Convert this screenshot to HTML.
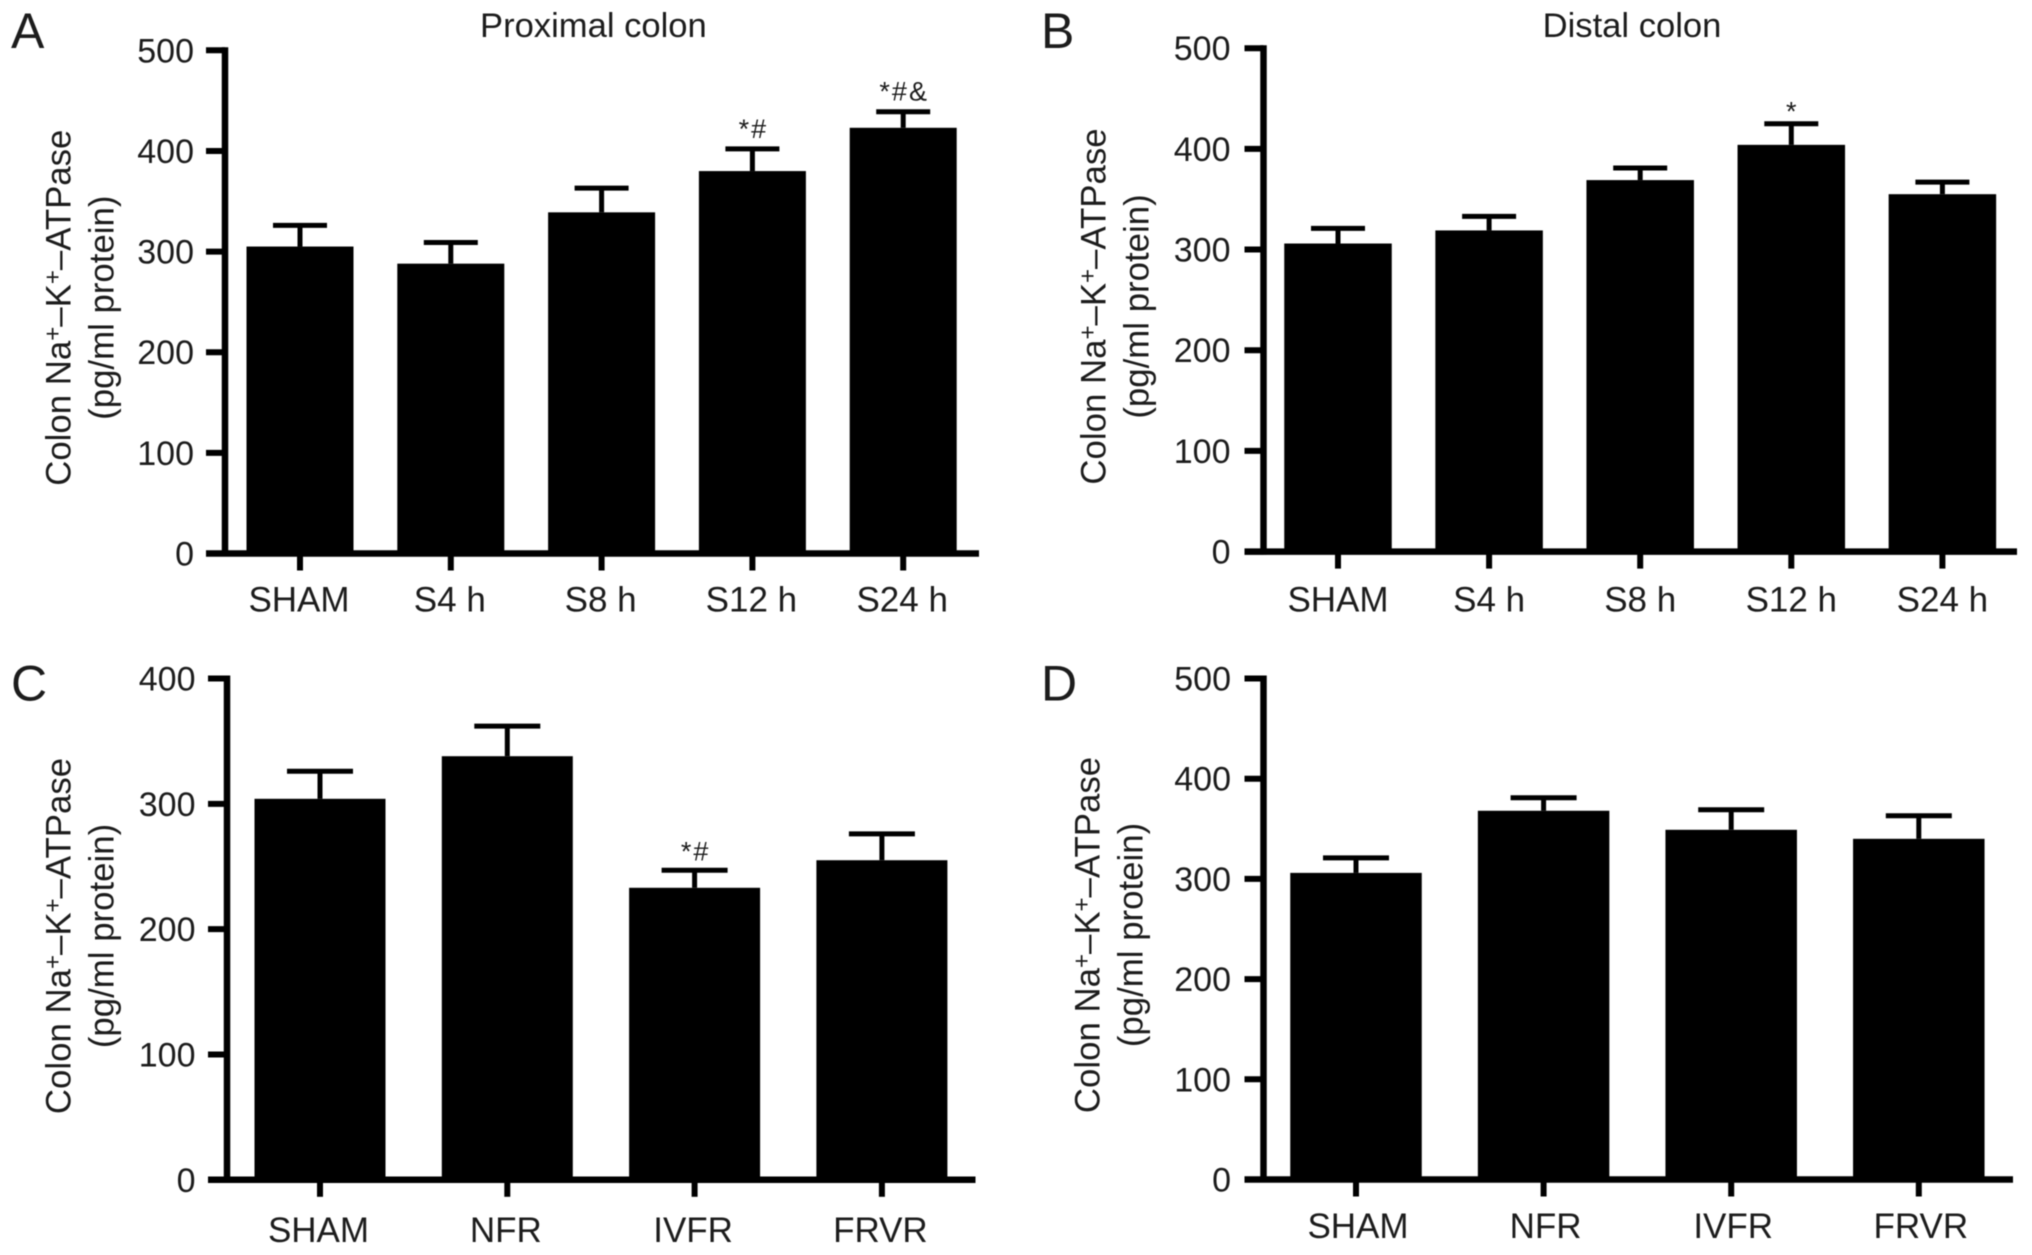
<!DOCTYPE html>
<html lang="en">
<head>
<meta charset="utf-8">
<title>Colon Na+-K+-ATPase bar charts</title>
<style>
html,body{margin:0;padding:0;background:#fff;width:2032px;height:1255px;overflow:hidden}
svg{display:block;filter:blur(0.6px)}
text{font-family:"Liberation Sans",Arial,sans-serif;fill:#1c1c1c}
</style>
</head>
<body>
<svg id="figure" xmlns="http://www.w3.org/2000/svg" width="2032" height="1255" viewBox="0 0 2032 1255"></svg>
<script>
const panelACategories = ['SHAM', 'S4 h', 'S8 h', 'S12 h', 'S24 h'];
const panelAValues = [305, 288, 339, 380, 423];
const panelAErrorTops = [326, 309, 363, 402, 439];
const panelASignificance = ['', '', '', '*#', '*#&'];
const panelATicks = [0, 100, 200, 300, 400, 500];

const panelBCategories = ['SHAM', 'S4 h', 'S8 h', 'S12 h', 'S24 h'];
const panelBValues = [306, 319, 369, 404, 355];
const panelBErrorTops = [321, 333, 381, 425, 367];
const panelBSignificance = ['', '', '', '*', ''];
const panelBTicks = [0, 100, 200, 300, 400, 500];

const panelCCategories = ['SHAM', 'NFR', 'IVFR', 'FRVR'];
const panelCValues = [304, 338, 233, 255];
const panelCErrorTops = [326, 362, 247, 276];
const panelCSignificance = ['', '', '*#', ''];
const panelCTicks = [0, 100, 200, 300, 400];

const panelDCategories = ['SHAM', 'NFR', 'IVFR', 'FRVR'];
const panelDValues = [306, 368, 349, 340];
const panelDErrorTops = [321, 381, 369, 363];
const panelDSignificance = ['', '', '', ''];
const panelDTicks = [0, 100, 200, 300, 400, 500];

const NS = 'http://www.w3.org/2000/svg';
const figure = document.getElementById('figure');

function make(tag, attrs, parent) {
  const el = document.createElementNS(NS, tag);
  for (const k in attrs) el.setAttribute(k, attrs[k]);
  parent.appendChild(el);
  return el;
}

function drawPanel(cfg) {
  const g = make('g', {}, figure);
  
  

  const maxTick = cfg.ticks[cfg.ticks.length - 1];
  const yOf = v => cfg.zeroY - (v / maxTick) * (cfg.zeroY - cfg.topY);
  const xOf = i => cfg.firstX + i * cfg.step;

  const letter = make('text', {x: cfg.letterX, y: cfg.letterY, 'font-size': 50}, g);
  letter.textContent = cfg.id;
  
  

  if (cfg.title) {
    const title = make('text', {x: cfg.titleX, y: 37, 'font-size': 34.6, 'text-anchor': 'middle'}, g);
    title.textContent = cfg.title;
    
    
  }

  cfg.values.forEach((v, i) => {
    const bar = make('rect', {x: xOf(i) - cfg.barW / 2, y: yOf(v), width: cfg.barW, height: cfg.zeroY - yOf(v), fill: '#000'}, g);
    
    

    const stem = make('line', {x1: xOf(i), x2: xOf(i), y1: yOf(v), y2: yOf(cfg.errorTops[i]), stroke: '#000', 'stroke-width': 5}, g);
    
    

    const cap = make('line', {x1: xOf(i) - cfg.capW / 2, x2: xOf(i) + cfg.capW / 2, y1: yOf(cfg.errorTops[i]), y2: yOf(cfg.errorTops[i]), stroke: '#000', 'stroke-width': 5}, g);
    
    

    if (cfg.significance[i]) {
      const sig = make('text', {x: xOf(i) + 1, y: yOf(cfg.errorTops[i]) - cfg.sigGap, 'font-size': 27, 'text-anchor': 'middle', 'letter-spacing': 2}, g);
      sig.textContent = cfg.significance[i];
      
      
    }

    const tick = make('line', {x1: xOf(i), x2: xOf(i), y1: cfg.zeroY, y2: cfg.zeroY + 17, stroke: '#000', 'stroke-width': 6}, g);
    
    

    const label = make('text', {x: xOf(i) + cfg.labelDx, y: cfg.labelY, 'font-size': 35, 'text-anchor': 'middle'}, g);
    label.textContent = cfg.categories[i];
    
    
  });

  const yAxis = make('line', {x1: cfg.axisX, x2: cfg.axisX, y1: cfg.topY - 3, y2: cfg.zeroY + 3, stroke: '#000', 'stroke-width': 6.5}, g);
  
  

  const xAxis = make('line', {x1: cfg.axisX - 19, x2: cfg.axisEnd, y1: cfg.zeroY, y2: cfg.zeroY, stroke: '#000', 'stroke-width': 6.5}, g);
  
  

  cfg.ticks.forEach(t => {
    const tick = make('line', {x1: cfg.axisX - 19, x2: cfg.axisX, y1: yOf(t), y2: yOf(t), stroke: '#000', 'stroke-width': 6}, g);
    
    

    const label = make('text', {x: cfg.axisX - cfg.labelGap, y: yOf(t) + 12, 'font-size': 34, 'text-anchor': 'end'}, g);
    label.textContent = t;
    
    
  });

  const t1 = make('text', {transform: 'translate(' + cfg.yTitleX + ',' + cfg.yTitleY + ') rotate(-90)', 'font-size': 34.8, 'text-anchor': 'middle'}, g);
  
  
  make('tspan', {}, t1).textContent = 'Colon Na';
  make('tspan', {dy: -10, 'font-size': 24}, t1).textContent = '+';
  make('tspan', {dy: 10}, t1).textContent = '\u2013K';
  make('tspan', {dy: -10, 'font-size': 24}, t1).textContent = '+';
  make('tspan', {dy: 10}, t1).textContent = '\u2013ATPase';

  const t2 = make('text', {transform: 'translate(' + (cfg.yTitleX + 43) + ',' + cfg.yTitleY + ') rotate(-90)', 'font-size': 34.8, 'text-anchor': 'middle'}, g);
  t2.textContent = '(pg/ml protein)';
  
  
}

drawPanel({id: 'A', title: 'Proximal colon', titleX: 593.4,
  categories: panelACategories, values: panelAValues, errorTops: panelAErrorTops,
  significance: panelASignificance, ticks: panelATicks,
  axisX: 225, axisEnd: 979, topY: 50.3, zeroY: 553.5, firstX: 300, step: 150.8, barW: 107, capW: 54,
  labelY: 611.5, labelDx: -1, labelGap: 31, sigGap: 11, letterX: 11, letterY: 48, yTitleX: 70.5, yTitleY: 307.7});

drawPanel({id: 'B', title: 'Distal colon', titleX: 1632,
  categories: panelBCategories, values: panelBValues, errorTops: panelBErrorTops,
  significance: panelBSignificance, ticks: panelBTicks,
  axisX: 1263.5, axisEnd: 2017, topY: 48.2, zeroY: 551.6, firstX: 1338, step: 151.1, barW: 107.5, capW: 54,
  labelY: 611.5, labelDx: 0, labelGap: 33, sigGap: 3, letterX: 1041, letterY: 48, yTitleX: 1105.5, yTitleY: 306.5});

drawPanel({id: 'C', title: '',
  categories: panelCCategories, values: panelCValues, errorTops: panelCErrorTops,
  significance: panelCSignificance, ticks: panelCTicks,
  axisX: 227, axisEnd: 975.5, topY: 678.5, zeroY: 1179.8, firstX: 320, step: 187.3, barW: 131, capW: 66,
  labelY: 1242, labelDx: -1.5, labelGap: 31.5, sigGap: 9.5, letterX: 11, letterY: 700.5, yTitleX: 70.5, yTitleY: 936});

drawPanel({id: 'D', title: '',
  categories: panelDCategories, values: panelDValues, errorTops: panelDErrorTops,
  significance: panelDSignificance, ticks: panelDTicks,
  axisX: 1263.5, axisEnd: 2013, topY: 678.5, zeroY: 1179.5, firstX: 1356, step: 187.6, barW: 131.5, capW: 66,
  labelY: 1238, labelDx: 2, labelGap: 32.5, sigGap: 10, letterX: 1041, letterY: 700.5, yTitleX: 1099.7, yTitleY: 935});
</script>
</body>
</html>
